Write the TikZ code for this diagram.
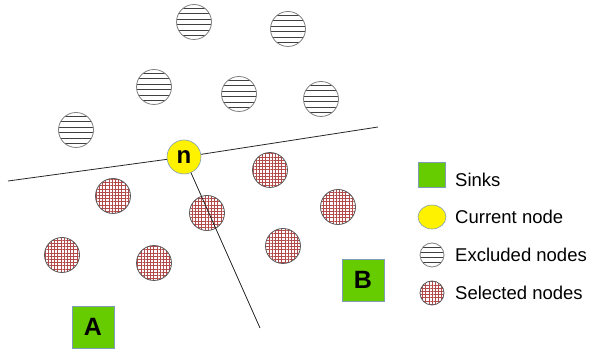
\documentclass[tikz,border=0pt]{standalone}
\usepackage{fontspec}
\setmainfont{Liberation Sans}
\usetikzlibrary{patterns.meta,shapes.geometric}
\definecolor{sinkgreen}{HTML}{66CC00}
\definecolor{edgeblue}{HTML}{7F9DB9}
\definecolor{selred}{HTML}{A52A2A}
\tikzset{
  hlines/.style={path picture={
    \foreach \d in {#1}
      \draw[black!75,line width=0.9pt] ([xshift=-20pt,yshift=\d pt]path picture bounding box.center) -- ++(40pt,0);}},
  excl/.style={circle, minimum size=35pt, inner sep=0pt, draw=black!50, line width=0.8pt, fill=white,
    hlines={-13.75,-8.25,-2.75,2.75,8.25,13.75}},
  sel/.style={circle, minimum size=35pt, inner sep=0pt, draw=black!65, line width=0.8pt, fill=white,
    pattern={Hatch[angle=0,distance=3.2pt,line width=0.45pt]}, pattern color=selred!85},
  cur/.style={circle, minimum size=34pt, inner sep=0pt, draw=edgeblue, line width=0.6pt, fill=yellow,
    font=\bfseries\fontsize{24}{24}\selectfont},
  sink/.style={rectangle, minimum size=42pt, inner sep=0pt, draw=edgeblue, line width=0.6pt, fill=sinkgreen,
    font=\bfseries\fontsize{25}{25}\selectfont},
  lsink/.style={rectangle, minimum width=27pt, minimum height=25pt, inner sep=0pt, draw=edgeblue, line width=0.6pt, fill=sinkgreen},
  lcur/.style={ellipse, minimum width=28pt, minimum height=24pt, inner sep=0pt, draw=edgeblue, line width=0.6pt, fill=yellow},
  lexcl/.style={circle, minimum size=24pt, inner sep=0pt, draw=black!50, line width=0.8pt, fill=white,
    hlines={-7.5,-2.5,2.5,7.5}},
  lsel/.style={sel, minimum size=24pt},
  ltext/.style={anchor=west, inner sep=0pt, font=\fontsize{18.5}{18.5}\selectfont},
  divider/.style={line width=0.8pt, black!85}
}
\begin{document}
\begin{tikzpicture}[x=1pt,y=-1pt]
\useasboundingbox (0,0) rectangle (592,352);
% excluded
\node[excl] (e1) at (194,22) {};
\node[excl] (e2) at (288,29) {};
\node[excl] (e3) at (154,87) {};
\node[excl] (e4) at (239,94) {};
\node[excl] (e5) at (321,99) {};
\node[excl] (e6) at (76,130) {};
% selected
\node[sel] (s1) at (113,196) {};
\node[sel] (s2) at (270,170) {};
\node[sel] (s3) at (338,207) {};
\node[sel] (s4) at (207,213) {};
\node[sel] (s5) at (62,255) {};
\node[sel] (s6) at (154,263) {};
\node[sel] (s7) at (283,246) {};
% current
\node[cur] (n) at (184,157) {n};
\coordinate (l1) at (8,181);
\coordinate (l2) at (378,127);
\coordinate (l3) at (260,328);
\draw[divider] (l1) -- (n);
\draw[divider] (n) -- (l2);
\draw[divider] (n) -- (l3);
% sinks
\node[sink] (A) at (93,327) {A};
\node[sink] (B) at (363,280) {B};
% legend
\node[lsink] (k1) at (432,175) {};
\node[lcur] (k2) at (432,217) {};
\node[lexcl] (k3) at (432,255) {};
\node[lsel] (k4) at (432,293) {};
\node[ltext] (t1) at (455,180) {Sinks};
\node[ltext] (t2) at (455,217) {Current node};
\node[ltext] (t3) at (455,255) {Excluded nodes};
\node[ltext] (t4) at (455,293) {Selected nodes};
\end{tikzpicture}
\end{document}
